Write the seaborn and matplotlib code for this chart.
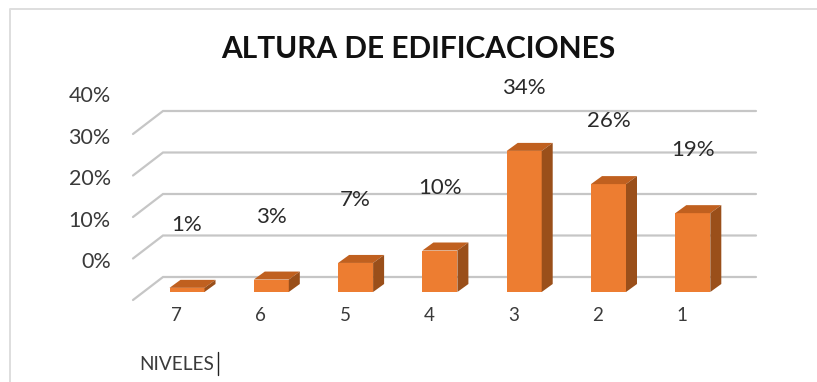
import matplotlib
matplotlib.use("Agg")
import matplotlib.pyplot as plt
from matplotlib.patches import Polygon
from matplotlib.lines import Line2D
import seaborn as sns
import pandas as pd
import numpy as np

niveles = ["7", "6", "5", "4", "3", "2", "1"]
porcentajes = [1, 3, 7, 10, 34, 26, 19]
etiquetas = ["1%", "3%", "7%", "10%", "34%", "26%", "19%"]
grid_valores = [0, 10, 20, 30, 40]
grid_labels = ["0%", "10%", "20%", "30%", "40%"]

W, H = 817, 382
PX_Y = 4.15      # px per percent
PX_X = 84.3      # px per category
FACE = "#ED7D31"; TOP = "#C0601F"; SIDE = "#9A4F1A"; GRID = "#C6C6C6"
FONT = ["Lato", "DejaVu Sans"]
sns.set_theme(style="white")
plt.rcParams["font.family"] = FONT

fig = plt.figure(figsize=(W/100, H/100), dpi=100, facecolor="white")
left, right, top, bottom = 133, 756, 85, 300
ax = fig.add_axes([left/W, 1-bottom/H, (right-left)/W, (bottom-top)/H])
ax.patch.set_alpha(0)
df = pd.DataFrame({"nivel": niveles, "pct": porcentajes})
sns.barplot(data=df, x="nivel", y="pct", color=FACE, saturation=1, width=35/PX_X,
            linewidth=0, edgecolor="none", ax=ax, zorder=3)
bars = list(ax.patches)
for s in ax.spines.values():
    s.set_visible(False)

x0 = (187-left)/PX_X
xlim = (-x0, (right-left)/PX_X-x0)
y0 = (bottom-292)/PX_Y
ylim = (-y0, (bottom-top)/PX_Y-y0)

depth_x = 11/PX_X; depth_y = 8/PX_Y
for p in bars:
    a, b, w, h = p.get_x(), p.get_y(), p.get_width(), p.get_height()
    ax.add_patch(Polygon([(a, b+h), (a+w, b+h), (a+w+depth_x, b+h+depth_y), (a+depth_x, b+h+depth_y)],
                         closed=True, fc=TOP, ec="none", zorder=3))
    ax.add_patch(Polygon([(a+w, b), (a+w+depth_x, b+depth_y), (a+w+depth_x, b+h+depth_y), (a+w, b+h)],
                         closed=True, fc=SIDE, ec="none", zorder=3))

# gridlines on the back wall, with a slanted wall segment at the left
back_dy = 15/PX_Y
diag_dx = 30/PX_X
diag_dy = 23/PX_Y
for v in grid_valores:
    yb = v + back_dy
    ax.plot([xlim[0], xlim[0]+diag_dx, xlim[1]], [yb-diag_dy, yb, yb], color=GRID, lw=1.6,
            zorder=1, clip_on=False, solid_joinstyle="miter")

# ticks
ax.set_yticks([v + 32/PX_Y for v in grid_valores])
ax.set_yticklabels(grid_labels)
ax.set_xticks(np.arange(len(niveles)) - 10.5/PX_X)
ax.set_xticklabels(niveles)
ax.tick_params(axis="y", length=0, pad=16, labelsize=15.5, labelcolor="#3a3a3a")
ax.tick_params(axis="x", length=0, pad=5, labelsize=13.5, labelcolor="#3a3a3a")
ax.set_xlabel(""); ax.set_ylabel("")
ax.set_xlim(*xlim)
ax.set_ylim(*ylim)

for p, t in zip(bars, etiquetas):
    ax.annotate(t, (p.get_x()+p.get_width()/2, p.get_height()), xytext=(0, 63*0.72),
                textcoords="offset points", ha="center", va="center", fontsize=16, color="#2a2a2a",
                annotation_clip=False, zorder=5)

fig.text(418/W, 1-49/H, "ALTURA DE EDIFICACIONES", ha="center", va="center",
         fontsize=21.5, fontweight="bold", color="#111111")
fig.text(139.5/W, 1-364/H, "NIVELES", ha="left", va="center", fontsize=13.7, color="#3a3a3a")
fig.add_artist(Line2D([217.5/W, 217.5/W], [1-375/H, 1-352/H], color="#222222", lw=1))

# chart frame: only left and top edges are visible in the crop
fig.add_artist(Line2D([9.5/W, 9.5/W, 1], [0, 1-9/H, 1-9/H], color="#DEDEDE", lw=1.4))

fig.savefig("out.png", dpi=100)
